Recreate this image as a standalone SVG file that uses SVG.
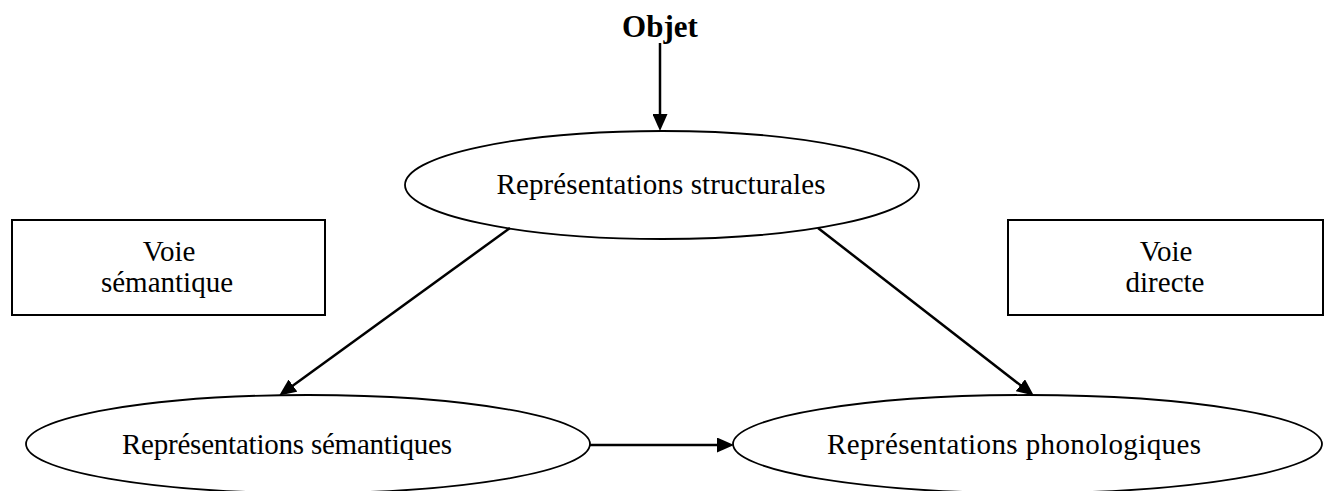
<svg xmlns="http://www.w3.org/2000/svg" width="1330" height="491" viewBox="0 0 1330 491">
  <style>
    .lbl { font-family: "Liberation Serif", "Times New Roman", serif; font-size: 29px; fill: #000; text-anchor: middle; }
    .title { font-family: "Liberation Serif", "Times New Roman", serif; font-size: 31px; font-weight: bold; fill: #000; text-anchor: middle; }
    .ell { fill: #fff; stroke: #000; stroke-width: 1.8; }
    .box { fill: #fff; stroke: #000; stroke-width: 2; }
    .conn { stroke: #000; stroke-width: 2.5; fill: none; marker-end: url(#arrow); }
  </style>
  <defs>
    <marker id="arrow" viewBox="0 0 17 15" refX="8" refY="7.5" markerWidth="17" markerHeight="15" markerUnits="userSpaceOnUse" orient="auto">
      <path d="M0,0 L17,7.5 L0,15 z" fill="#000"/>
    </marker>
  </defs>
  <rect width="1330" height="491" fill="#fff"/>

  <g id="objet">
    <text class="title" x="660" y="37">Objet</text>
  </g>

  <g id="rep-structurales">
    <ellipse class="ell" cx="662" cy="185" rx="257" ry="54"/>
    <text class="lbl" x="661" y="194" textLength="329">Représentations structurales</text>
  </g>

  <g id="voie-semantique">
    <rect class="box" x="12" y="220" width="313" height="95"/>
    <text class="lbl" x="169" y="261">Voie</text>
    <text class="lbl" x="167" y="292">sémantique</text>
  </g>

  <g id="voie-directe">
    <rect class="box" x="1008" y="220" width="315" height="95"/>
    <text class="lbl" x="1166" y="261">Voie</text>
    <text class="lbl" x="1165" y="292">directe</text>
  </g>

  <g id="rep-semantiques">
    <ellipse class="ell" cx="308" cy="444" rx="282" ry="49"/>
    <text class="lbl" x="287" y="454" textLength="330">Représentations sémantiques</text>
  </g>

  <g id="rep-phonologiques">
    <ellipse class="ell" cx="1027.5" cy="444" rx="294.5" ry="49"/>
    <text class="lbl" x="1014" y="454" textLength="374">Représentations phonologiques</text>
  </g>

  <g id="connectors">
    <line class="conn" x1="660" y1="43" x2="660" y2="122"/>
    <line class="conn" x1="510" y1="228" x2="286.5" y2="390.3"/>
    <line class="conn" x1="818" y1="228" x2="1026.7" y2="390.1"/>
    <line class="conn" x1="590" y1="445" x2="725" y2="445"/>
  </g>
</svg>
